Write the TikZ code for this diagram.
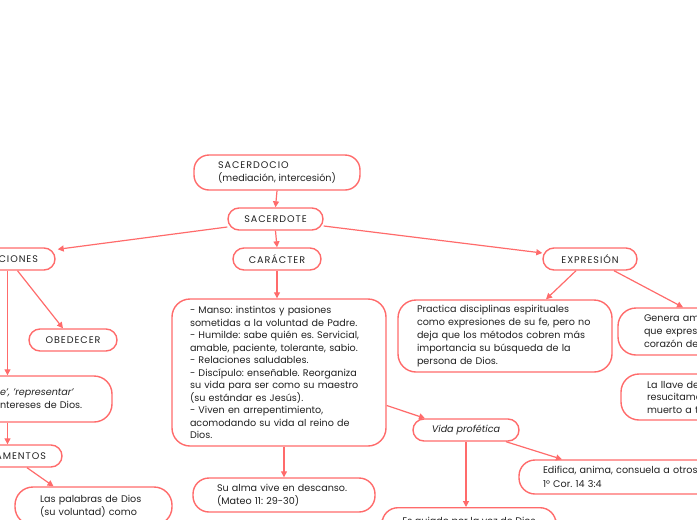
\documentclass[tikz,border=0pt]{standalone}
\usepackage{fontspec}
\usepackage{tikz}
\usetikzlibrary{positioning,arrows.meta}
\setmainfont{Poppins}
\frenchspacing
\definecolor{coral}{HTML}{FF6B6B}
\definecolor{ink}{HTML}{222222}
\newcommand{\spaced}[1]{{\addfontfeature{LetterSpace=10}#1}}

\begin{document}
\begin{tikzpicture}[x=1pt,y=-1pt,font=\fontsize{9.6}{12.5}\selectfont,text=ink,
  card/.style={draw=coral,fill=white,line width=1.4pt,rounded corners=11pt,inner sep=0pt,align=left},
  tag/.style={card,minimum height=22pt,align=center},
  link/.style={-{Triangle[length=6pt,width=6pt]},line width=1.2pt,draw=coral}]
\useasboundingbox (0,0) rectangle (697,520);
\node[card,rounded corners=15pt,minimum width=166pt,minimum height=35pt,font=\fontsize{9.6}{13}\selectfont] (sacerdocio) at (277,172.5) {\spaced{SACERDOCIO}\\(mediación, intercesión)};
\node[tag,minimum width=95pt] (sacerdote) at (275.5,219) {\spaced{SACERDOTE}};
\node[tag,minimum width=95pt,text width=61pt,align=right] (cciones) at (7.5,259) {\spaced{CIONES}};
\node[tag,minimum width=88pt] (caracter) at (277,259) {\spaced{CARÁCTER}};
\node[tag,minimum width=94pt] (expresion) at (590,259) {\spaced{EXPRESIÓN}};
\node[tag,minimum width=88pt] (obedecer) at (73,340) {\spaced{OBEDECER}};
\node[card,rounded corners=18pt,minimum width=134pt,minimum height=46pt,text width=90pt,font=\fontsize{9.6}{13}\selectfont] (representar) at (45,399) {\textit{e', 'representar'}\\ntereses de Dios.};
\node[tag,minimum width=102pt,text width=70pt,align=right] (amentos) at (11,456) {\spaced{AMENTOS}};
\node[card,rounded corners=18pt,minimum width=157pt,minimum height=38pt,text width=107pt] (palabras) at (93.5,506) {Las palabras de Dios\\(su voluntad) como};
\node[card,rounded corners=18pt,minimum width=214pt,minimum height=147pt,text width=178pt] (rasgos) at (279,372.5) {- Manso: instintos y pasiones\\sometidas a la voluntad de Padre.\\- Humilde: sabe quién es. Servicial,\\amable, paciente, tolerante, sabio.\\- Relaciones saludables.\\- Discípulo: enseñable. Reorganiza\\su vida para ser como su maestro\\(su estándar es Jesús).\\- Viven en arrepentimiento,\\acomodando su vida al reino de\\Dios.};
\node[card,rounded corners=16pt,minimum width=182pt,minimum height=34pt,text width=134pt,font=\fontsize{9.6}{13}\selectfont] (alma) at (284,495) {Su alma vive en descanso.\\(Mateo 11: 29-30)};
\node[tag,minimum width=106pt,font=\fontsize{9.6}{12.5}\selectfont\itshape] (vida) at (466,430) {Vida profética};
\node[card,rounded corners=16pt,minimum width=174pt,inner ysep=9pt,anchor=north] (guiado) at (469,507) {Es guiado por la voz de Dios};
\node[card,rounded corners=16pt,minimum width=248pt,minimum height=34pt,text width=200pt,font=\fontsize{9.6}{14}\selectfont] (edifica) at (643,477) {Edifica, anima, consuela a otros\\1°  Cor. 14 3:4};
\node[card,rounded corners=18pt,minimum width=214pt,minimum height=72pt,text width=176pt,font=\fontsize{9.6}{13}\selectfont] (practica) at (505,336) {Practica disciplinas espirituales\\como expresiones de su fe, pero no\\deja que los métodos cobren más\\importancia su búsqueda de la\\persona de Dios.};
\node[card,rounded corners=18pt,minimum width=160pt,minimum height=47pt,text width=108pt,font=\fontsize{9.6}{13}\selectfont] (genera) at (698,331.5) {Genera am\\que expres\\corazón de};
\node[card,rounded corners=18pt,minimum width=160pt,minimum height=46pt,text width=108pt] (llave) at (701,397) {La llave de\\resucitame\\muerto a t};
% conectores
\draw[link] (sacerdocio.south) -- (sacerdote.north);
\draw[link] ([yshift=-8pt]sacerdote.west) -- ([xshift=2pt,yshift=-2pt]cciones.north east);
\draw[link] (sacerdote.south) -- (caracter.north);
\draw[link] ([yshift=-7pt]sacerdote.east) -- ([yshift=6pt]expresion.west);
\draw[link] (cciones.south) -- (cciones.south |- representar.north);
\draw[link] ([xshift=10pt]cciones.south) -- ([xshift=-10pt]obedecer.north);
\draw[link] (cciones.south |- representar.south) -- (cciones.south |- amentos.north);
\draw[link] ([xshift=16pt]amentos.south) -- ([xshift=-40pt]palabras.north);
\draw[link] (caracter.south) -- (caracter.south |- rasgos.north);
\draw[link] (alma.north |- rasgos.south) -- (alma.north);
\draw[link] ([yshift=-33pt]rasgos.east) -- ([xshift=-41pt]vida.north);
\draw[link] (vida.south) -- (vida.south |- guiado.north);
\draw[link] ([xshift=40pt]vida.south) -- ([xshift=-81pt]edifica.north);
\draw[link] ([xshift=-14pt]expresion.south) -- ([xshift=41pt]practica.north);
\draw[link] ([xshift=24pt]expresion.south) -- ([xshift=-15pt]genera.north);
\end{tikzpicture}
\end{document}
